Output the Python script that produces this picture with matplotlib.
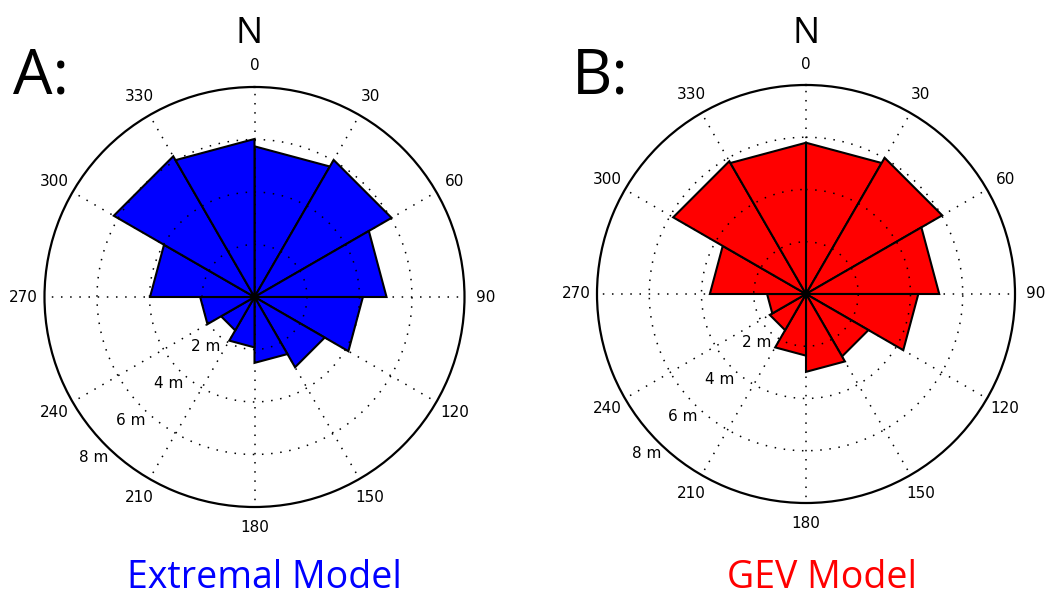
import numpy as np
import matplotlib
matplotlib.use('Agg')
import matplotlib.pyplot as plt

# ---- data ----
bin_edges_deg = [0, 30, 60, 90, 120, 150, 180, 210, 240, 270, 300, 330, 360]
extremal_heights = [5.74, 6.03, 5.03, 4.13, 3.09, 2.51, 1.92, 1.47, 2.07, 3.98, 6.19, 6.02]
gev_heights = [5.79, 6.02, 5.10, 4.30, 2.76, 2.98, 2.36, 1.60, 1.49, 3.68, 5.87, 5.79]
angle_ticks = [0, 30, 60, 90, 120, 150, 180, 210, 240, 270, 300, 330]
angle_labels = ['0', '30', '60', '90', '120', '150', '180', '210', '240', '270', '300', '330']
ring_values = [2, 4, 6, 8]
ring_labels = ['2 m', '4 m', '6 m', '8 m']
r_max = 8
ring_label_angle = 225

W, H = 1052, 598
fig = plt.figure(figsize=(W / 100, H / 100), dpi=100)
fig.patch.set_facecolor('white')


def rose(rect, heights, color):
    ax = fig.add_axes(rect, projection='polar')
    ax.set_theta_zero_location('N')
    ax.set_theta_direction(-1)
    ax.set_ylim(0, r_max)
    for i, h in enumerate(heights):
        t0 = np.deg2rad(bin_edges_deg[i])
        t1 = np.deg2rad(bin_edges_deg[i + 1])
        ax.fill([0, t0, t1, 0], [0, h, h, 0], facecolor=color,
                edgecolor='black', linewidth=1.5, zorder=1)
    ax.set_xticks(np.deg2rad(angle_ticks))
    ax.set_xticklabels([])
    ax.set_yticks(ring_values[:-1])
    ax.set_yticklabels([])
    ax.set_axisbelow(False)
    ax.grid(True, color='black', linewidth=1.1, linestyle=(0, (1, 5)))
    ax.spines['polar'].set_linewidth(1.6)
    ax.tick_params(length=0)
    for a, lab in zip(angle_ticks, angle_labels):
        ax.text(np.deg2rad(a), r_max * 1.1, lab, ha='center', va='center',
                fontsize=11, family='DejaVu Sans', clip_on=False)
    for rv, lab in zip(ring_values, ring_labels):
        ax.text(np.deg2rad(ring_label_angle), rv + 0.65, lab, ha='center',
                va='center', fontsize=11, family='DejaVu Sans', zorder=4,
                clip_on=False)
    return ax


def px_rect(cx, cy, R):
    return [(cx - R) / W, (H - cy - R) / H, 2 * R / W, 2 * R / H]


axA = rose(px_rect(254.5, 297, 210), extremal_heights, '#0000ff')
axB = rose(px_rect(806, 294, 209), gev_heights, '#ff0000')

tfont = 'Open Sans'
fig.text(249 / W, 1 - 43 / H, 'N', ha='center', va='baseline', fontsize=26, family=tfont)
fig.text(806 / W, 1 - 43 / H, 'N', ha='center', va='baseline', fontsize=26, family=tfont)
fig.text(13 / W, 1 - 93 / H, 'A:', ha='left', va='baseline', fontsize=45, family=tfont)
fig.text(572 / W, 1 - 93 / H, 'B:', ha='left', va='baseline', fontsize=45, family=tfont)
fig.text(264 / W, 1 - 588 / H, 'Extremal Model', ha='center', va='baseline',
         fontsize=27, family=tfont, color='#0000ff')
fig.text(822 / W, 1 - 588 / H, 'GEV Model', ha='center', va='baseline',
         fontsize=27, family=tfont, color='#ff0000')

fig.savefig('out.png', dpi=100, facecolor='white')
